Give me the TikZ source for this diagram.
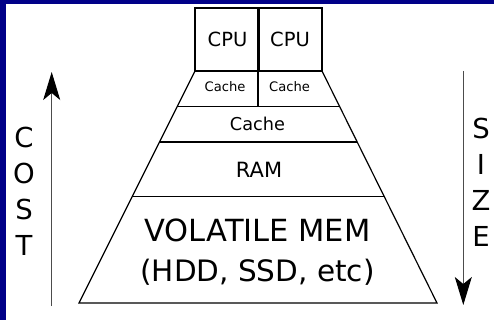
\documentclass[tikz,border=0pt]{standalone}
\usepackage{fontspec}
\setmainfont{DejaVu Sans}
\usetikzlibrary{arrows.meta,calc}
\definecolor{frameblue}{RGB}{0,0,136}
\tikzset{
  wall/.style={line width=1.2pt, line join=miter},
  lbl/.style={anchor=base, inner sep=0pt},
  axis/.style={line width=1.1pt, black!70, -{Stealth[black, length=28pt, width=17pt, inset=7pt]}}
}
\begin{document}
\begin{tikzpicture}[x=1pt, y=-1pt]
  \useasboundingbox (0,0) rectangle (494,320);
  \fill[frameblue] (0,0) rectangle (494,320);
  \fill[white] (6,4) rectangle (494,320);

  % pyramid corners
  \coordinate (ctl) at (195,71);
  \coordinate (ctr) at (322,71);
  \coordinate (bl)  at (79,303);
  \coordinate (br)  at (437,303);

  % cpu boxes
  \draw[wall] (195,8) rectangle (322,71);
  \draw[line width=3pt] (258,8) -- (258,71);
  \node[lbl, font=\fontsize{19.5}{20}\selectfont] (cpuA) at (227.5,46.5) {CPU};
  \node[lbl, font=\fontsize{19.5}{20}\selectfont] (cpuB) at (290,46.5) {CPU};

  % pyramid
  \draw[wall] (ctl) -- (bl) -- (br) -- (ctr);
  \draw[wall] ($(ctl)!0.154!(bl)$) -- ($(ctr)!0.154!(br)$);
  \draw[wall] ($(ctl)!0.306!(bl)$) -- ($(ctr)!0.306!(br)$);
  \draw[wall] ($(ctl)!0.542!(bl)$) -- ($(ctr)!0.542!(br)$);
  \draw[wall] (258,71) -- (258,106.7);

  \node[lbl, font=\fontsize{13.1}{14}\selectfont] (cacheA) at (225,91.5) {Cache};
  \node[lbl, font=\fontsize{13.1}{14}\selectfont] (cacheB) at (289.5,91.5) {Cache};
  \node[lbl, font=\fontsize{17.7}{18}\selectfont] (cacheL) at (257.5,131) {Cache};
  \node[lbl, font=\fontsize{21}{22}\selectfont] (ram) at (259,178) {RAM};
  \node[lbl, font=\fontsize{30.5}{31}\selectfont] (vol) at (257.5,241) {VOLATILE MEM};
  \node[lbl, font=\fontsize{29.5}{30}\selectfont] (hdd) at (257.5,281) {(HDD, SSD, etc)};

  % cost and size
  \coordinate (costlo) at (51.7,306);
  \coordinate (costhi) at (51.7,72);
  \coordinate (sizehi) at (463.3,71);
  \coordinate (sizelo) at (463.3,305);
  \draw[axis] (costlo) -- (costhi);
  \draw[axis] (sizehi) -- (sizelo);
  \node[anchor=north, inner sep=0pt, align=center, font=\fontsize{27.5}{36}\selectfont] (cost) at (24,127) {C\\O\\S\\T};
  \node[anchor=north, inner sep=0pt, align=center, font=\fontsize{27.5}{36}\selectfont] (size) at (481,118) {S\\I\\Z\\E};
\end{tikzpicture}
\end{document}
